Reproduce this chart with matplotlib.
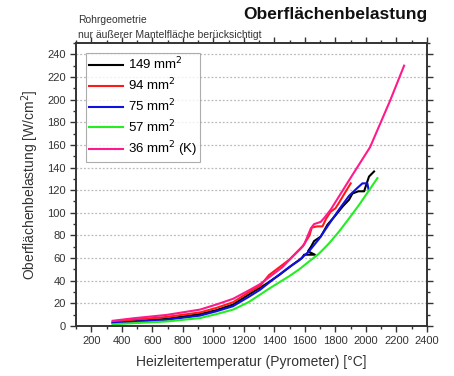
import matplotlib
matplotlib.use("Agg")
import matplotlib.pyplot as plt
from matplotlib.ticker import MultipleLocator

plt.rcParams['font.family'] = ['Liberation Sans', 'DejaVu Sans']

# --- data ---
t_149 = [340, 475, 694, 913, 1020, 1129, 1235, 1344, 1431, 1518, 1580, 1595, 1665, 1620, 1640, 1660,
         1704, 1748, 1802, 1850, 1889, 1911, 1950, 1988, 2000, 2020, 2053]
v_149 = [3, 4.2, 6.3, 10.5, 14, 19, 28, 37, 45, 54, 60, 63, 63, 66, 70, 75,
         79, 89.5, 98, 106, 111.5, 117, 119, 119, 124, 132, 136.5]

t_94 = [340, 475, 694, 913, 1020, 1129, 1235, 1306, 1365, 1497, 1584, 1630, 1645, 1680, 1715, 1740,
        1769, 1800, 1824, 1868, 1900]
v_94 = [3.7, 5.5, 8, 12, 16, 21, 30, 35.4, 45, 58.5, 70, 80, 87, 88, 88, 95,
        101, 104, 109, 119, 126]

t_75 = [340, 475, 694, 913, 1020, 1129, 1235, 1306, 1409, 1497, 1562, 1627, 1693, 1758, 1824, 1889,
        1944, 1977, 2009, 2018]
v_75 = [2.5, 3.7, 5.5, 9.2, 13, 17.5, 26, 32, 43, 52, 58, 66, 77, 90, 103, 115,
        122, 126, 126, 120]

t_57 = [340, 475, 694, 913, 1020, 1129, 1230, 1306, 1365, 1431, 1497, 1562, 1627, 1693, 1758, 1824, 1889,
        1955, 2021, 2075]
v_57 = [1.5, 2.5, 4, 7, 10.5, 14.5, 21, 27.7, 33, 38.5, 44, 50, 57, 64, 73, 83.5, 95,
        107, 120, 130.6]

t_36 = [340, 475, 694, 913, 1020, 1129, 1240, 1306, 1453, 1595, 1638, 1660, 1704, 1730, 1770, 1835,
        1900, 2027, 2158, 2250]
v_36 = [4.6, 6.8, 9.8, 14.5, 19, 24, 32, 37, 52, 72, 86, 90, 92, 96, 103, 117,
        131, 158, 199, 230]

series = [
    (t_149, v_149, 'black', '149 mm$^2$'),
    (t_94, v_94, '#ff1a1a', '94 mm$^2$'),
    (t_75, v_75, '#1010e0', '75 mm$^2$'),
    (t_57, v_57, '#22ee22', '57 mm$^2$'),
    (t_36, v_36, '#ff1a8c', '36 mm$^2$ (K)'),
]

fig = plt.figure(figsize=(4.54, 3.76), dpi=100)
ax = fig.add_axes([76/454, 1-326/376, (427-76)/454, (326-43)/376])

for t, v, c, lab in series:
    ax.plot(t, v, color=c, lw=1.5, label=lab)

ax.set_xlim(100, 2400)
ax.set_ylim(0, 250)
ax.xaxis.set_minor_locator(MultipleLocator(100))
ax.yaxis.set_minor_locator(MultipleLocator(10))
ax.set_xticks(range(200, 2401, 200))
ax.set_yticks(range(0, 241, 20))
ax.tick_params(which='both', direction='out', top=True, right=True, color='#333333',
               labelsize=8, labelcolor='#333333', width=1)
ax.tick_params(which='major', length=4)
ax.tick_params(which='minor', length=2.5)
ax.tick_params(axis='x', labeltop=False)
ax.tick_params(axis='y', labelright=False)
for s in ax.spines.values():
    s.set_linewidth(1.4)
    s.set_color('#333333')
ax.grid(axis='y', which='major', linestyle=(0, (1.5, 1.5)), color='#bbbbbb', lw=0.9)
ax.set_axisbelow(True)

ax.set_xlabel('Heizleitertemperatur (Pyrometer) [°C]', fontsize=10, color='#333333', labelpad=6)
ax.set_ylabel('Oberflächenbelastung [W/cm$^2$]', fontsize=10, color='#333333', labelpad=4)

leg = ax.legend(loc='upper left', bbox_to_anchor=(10/351, 1-10/283), fontsize=9.5,
                frameon=True, fancybox=False, edgecolor='#999999', handlelength=2.6,
                borderpad=0.2, labelspacing=0.33, handletextpad=0.4, borderaxespad=0)
leg.get_frame().set_linewidth(0.8)

fig.text(428/454, 1-15/376, 'Oberflächenbelastung', ha='right', va='center',
         fontsize=12.5, fontweight='bold', color='#111111')
fig.text(78/454, 1-20/376, 'Rohrgeometrie', ha='left', va='center', fontsize=7.5, color='#333333')
fig.text(78/454, 1-35/376, 'nur äußerer Mantelfläche berücksichtigt', ha='left', va='center',
         fontsize=7.5, color='#333333')

fig.savefig('out.png', dpi=100)
